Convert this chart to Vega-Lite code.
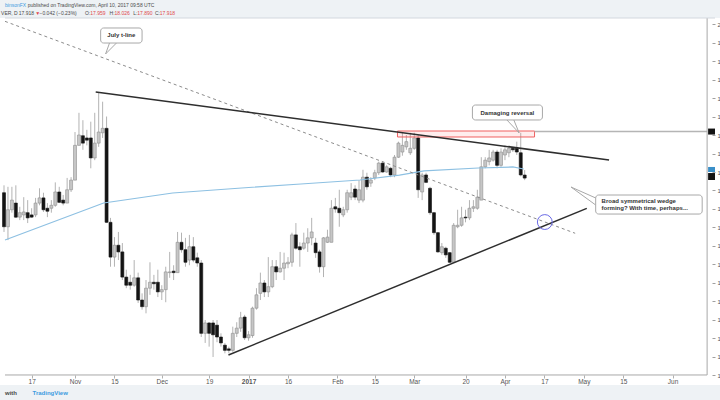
{
  "$schema": "https://vega.github.io/schema/vega-lite/v6.json",
  "width": 720,
  "height": 367,
  "autosize": "none",
  "padding": {"left": 0, "top": 18, "right": 0, "bottom": 15},
  "background": "#eef2f5",
  "config": {"view": {"fill": "white", "stroke": null}, "font": "Liberation Sans"},
  "datasets": {
    "candles": [
      {"i":-18,"o":17.72,"h":17.82,"l":17.19,"c":17.26},
      {"i":-17,"o":17.26,"h":17.80,"l":17.08,"c":17.49},
      {"i":-16,"o":17.49,"h":17.80,"l":17.45,"c":17.62},
      {"i":-15,"o":17.58,"h":17.82,"l":17.38,"c":17.39},
      {"i":-14,"o":17.39,"h":17.53,"l":17.35,"c":17.45},
      {"i":-13,"o":17.42,"h":17.66,"l":17.35,"c":17.46},
      {"i":-12,"o":17.45,"h":17.62,"l":17.31,"c":17.38},
      {"i":-11,"o":17.42,"h":17.51,"l":17.38,"c":17.39},
      {"i":-10,"o":17.42,"h":17.65,"l":17.39,"c":17.58},
      {"i":-9,"o":17.58,"h":17.78,"l":17.55,"c":17.65},
      {"i":-8,"o":17.65,"h":17.72,"l":17.46,"c":17.49},
      {"i":-7,"o":17.51,"h":17.58,"l":17.39,"c":17.47},
      {"i":-6,"o":17.51,"h":17.62,"l":17.45,"c":17.55},
      {"i":-5,"o":17.55,"h":17.86,"l":17.53,"c":17.73},
      {"i":-4,"o":17.73,"h":17.80,"l":17.58,"c":17.59},
      {"i":-3,"o":17.62,"h":17.69,"l":17.55,"c":17.58},
      {"i":-2,"o":17.58,"h":17.92,"l":17.58,"c":17.76},
      {"i":-1,"o":17.76,"h":17.93,"l":17.73,"c":17.89},
      {"i":0,"o":17.89,"h":18.54,"l":17.89,"c":18.36},
      {"i":1,"o":18.36,"h":18.80,"l":18.36,"c":18.50},
      {"i":2,"o":18.49,"h":18.70,"l":18.30,"c":18.39},
      {"i":3,"o":18.46,"h":18.57,"l":18.36,"c":18.43},
      {"i":4,"o":18.46,"h":18.68,"l":18.05,"c":18.19},
      {"i":5,"o":18.19,"h":18.80,"l":18.16,"c":18.39},
      {"i":6,"o":18.39,"h":19.07,"l":18.34,"c":18.54},
      {"i":7,"o":18.53,"h":18.95,"l":18.46,"c":18.59},
      {"i":8,"o":18.59,"h":18.75,"l":17.31,"c":17.32},
      {"i":9,"o":17.32,"h":17.38,"l":16.72,"c":16.85},
      {"i":10,"o":16.85,"h":17.12,"l":16.72,"c":17.01},
      {"i":11,"o":17.01,"h":17.19,"l":16.81,"c":16.92},
      {"i":12,"o":16.92,"h":17.04,"l":16.54,"c":16.58},
      {"i":13,"o":16.58,"h":16.68,"l":16.43,"c":16.47},
      {"i":14,"o":16.51,"h":16.61,"l":16.41,"c":16.47},
      {"i":15,"o":16.47,"h":16.81,"l":16.45,"c":16.57},
      {"i":16,"o":16.57,"h":16.64,"l":16.23,"c":16.27},
      {"i":17,"o":16.27,"h":16.36,"l":16.14,"c":16.18},
      {"i":18,"o":16.18,"h":16.54,"l":16.09,"c":16.43},
      {"i":19,"o":16.43,"h":16.78,"l":16.34,"c":16.51},
      {"i":20,"o":16.51,"h":16.61,"l":16.41,"c":16.49},
      {"i":21,"o":16.51,"h":16.68,"l":16.31,"c":16.38},
      {"i":22,"o":16.38,"h":16.47,"l":16.27,"c":16.41},
      {"i":23,"o":16.41,"h":16.72,"l":16.24,"c":16.65},
      {"i":24,"o":16.64,"h":16.92,"l":16.57,"c":16.65},
      {"i":25,"o":16.66,"h":16.74,"l":16.54,"c":16.64},
      {"i":26,"o":16.64,"h":17.19,"l":16.64,"c":17.05},
      {"i":27,"o":17.05,"h":17.18,"l":16.91,"c":16.95},
      {"i":28,"o":16.95,"h":17.11,"l":16.72,"c":16.78},
      {"i":29,"o":16.81,"h":17.15,"l":16.74,"c":16.99},
      {"i":30,"o":16.99,"h":17.12,"l":16.78,"c":16.81},
      {"i":31,"o":16.84,"h":16.91,"l":16.72,"c":16.77},
      {"i":32,"o":16.77,"h":16.81,"l":15.77,"c":15.82},
      {"i":33,"o":15.82,"h":16.00,"l":15.69,"c":15.96},
      {"i":34,"o":15.96,"h":15.97,"l":15.64,"c":15.82},
      {"i":35,"o":15.96,"h":16.00,"l":15.50,"c":15.80},
      {"i":36,"o":15.93,"h":16.00,"l":15.70,"c":15.77},
      {"i":37,"o":15.77,"h":15.82,"l":15.64,"c":15.69},
      {"i":38,"o":15.66,"h":15.69,"l":15.55,"c":15.59},
      {"i":39,"o":15.61,"h":15.64,"l":15.55,"c":15.59},
      {"i":40,"o":15.59,"h":15.91,"l":15.57,"c":15.82},
      {"i":41,"o":15.82,"h":15.97,"l":15.77,"c":15.89},
      {"i":42,"o":15.89,"h":16.11,"l":15.84,"c":16.03},
      {"i":43,"o":16.04,"h":16.07,"l":15.73,"c":15.76},
      {"i":44,"o":15.76,"h":15.85,"l":15.72,"c":15.80},
      {"i":45,"o":15.79,"h":16.18,"l":15.76,"c":16.16},
      {"i":46,"o":16.16,"h":16.43,"l":16.14,"c":16.34},
      {"i":47,"o":16.36,"h":16.64,"l":16.27,"c":16.50},
      {"i":48,"o":16.50,"h":16.54,"l":16.31,"c":16.38},
      {"i":49,"o":16.38,"h":16.85,"l":16.31,"c":16.45},
      {"i":50,"o":16.45,"h":16.81,"l":16.43,"c":16.72},
      {"i":51,"o":16.72,"h":16.81,"l":16.54,"c":16.65},
      {"i":52,"o":16.65,"h":16.92,"l":16.64,"c":16.70},
      {"i":53,"o":16.70,"h":16.91,"l":16.54,"c":16.77},
      {"i":54,"o":16.76,"h":16.85,"l":16.70,"c":16.78},
      {"i":55,"o":16.78,"h":17.18,"l":16.72,"c":17.15},
      {"i":56,"o":17.15,"h":17.31,"l":16.95,"c":16.97},
      {"i":57,"o":16.99,"h":17.05,"l":16.72,"c":16.95},
      {"i":58,"o":16.97,"h":17.18,"l":16.95,"c":17.04},
      {"i":59,"o":17.04,"h":17.24,"l":16.92,"c":17.11},
      {"i":60,"o":17.11,"h":17.38,"l":17.01,"c":17.19},
      {"i":61,"o":17.04,"h":17.11,"l":16.84,"c":16.91},
      {"i":62,"o":16.92,"h":16.95,"l":16.64,"c":16.72},
      {"i":63,"o":16.72,"h":17.12,"l":16.58,"c":17.11},
      {"i":64,"o":17.05,"h":17.22,"l":17.04,"c":17.12},
      {"i":65,"o":17.05,"h":17.62,"l":17.05,"c":17.51},
      {"i":66,"o":17.53,"h":17.65,"l":17.45,"c":17.50},
      {"i":67,"o":17.51,"h":17.76,"l":17.26,"c":17.45},
      {"i":68,"o":17.42,"h":17.53,"l":17.39,"c":17.49},
      {"i":69,"o":17.49,"h":17.76,"l":17.45,"c":17.72},
      {"i":70,"o":17.66,"h":17.85,"l":17.62,"c":17.72},
      {"i":71,"o":17.77,"h":17.82,"l":17.62,"c":17.66},
      {"i":72,"o":17.62,"h":17.89,"l":17.58,"c":17.76},
      {"i":73,"o":17.62,"h":18.03,"l":17.59,"c":17.93},
      {"i":74,"o":17.93,"h":17.99,"l":17.76,"c":17.80},
      {"i":75,"o":17.85,"h":17.93,"l":17.80,"c":17.89},
      {"i":76,"o":17.92,"h":18.03,"l":17.89,"c":17.99},
      {"i":77,"o":17.99,"h":18.14,"l":17.96,"c":18.12},
      {"i":78,"o":18.12,"h":18.14,"l":17.99,"c":18.00},
      {"i":79,"o":18.00,"h":18.09,"l":17.99,"c":18.07},
      {"i":80,"o":18.05,"h":18.07,"l":17.93,"c":17.96},
      {"i":81,"o":17.96,"h":18.23,"l":17.93,"c":18.20},
      {"i":82,"o":18.20,"h":18.41,"l":18.19,"c":18.39},
      {"i":83,"o":18.27,"h":18.54,"l":18.22,"c":18.36},
      {"i":84,"o":18.34,"h":18.50,"l":18.30,"c":18.41},
      {"i":85,"o":18.26,"h":18.53,"l":18.23,"c":18.32},
      {"i":86,"o":18.32,"h":18.53,"l":18.30,"c":18.46},
      {"i":87,"o":18.46,"h":18.50,"l":17.65,"c":17.76},
      {"i":88,"o":17.73,"h":17.99,"l":17.62,"c":17.96},
      {"i":89,"o":17.96,"h":17.99,"l":17.85,"c":17.86},
      {"i":90,"o":17.78,"h":17.80,"l":17.42,"c":17.45},
      {"i":91,"o":17.45,"h":17.46,"l":17.15,"c":17.18},
      {"i":92,"o":17.18,"h":17.19,"l":16.91,"c":16.92},
      {"i":93,"o":16.91,"h":17.04,"l":16.88,"c":16.99},
      {"i":94,"o":16.97,"h":16.99,"l":16.84,"c":16.88},
      {"i":95,"o":16.91,"h":16.92,"l":16.77,"c":16.78},
      {"i":96,"o":16.78,"h":17.31,"l":16.78,"c":17.28},
      {"i":97,"o":17.26,"h":17.49,"l":17.24,"c":17.28},
      {"i":98,"o":17.28,"h":17.53,"l":17.26,"c":17.38},
      {"i":99,"o":17.39,"h":17.49,"l":17.32,"c":17.38},
      {"i":100,"o":17.38,"h":17.62,"l":17.35,"c":17.51},
      {"i":101,"o":17.51,"h":17.62,"l":17.46,"c":17.53},
      {"i":102,"o":17.51,"h":17.76,"l":17.49,"c":17.66},
      {"i":103,"o":17.62,"h":18.20,"l":17.62,"c":18.07},
      {"i":104,"o":18.07,"h":18.20,"l":18.05,"c":18.16},
      {"i":105,"o":18.14,"h":18.30,"l":18.09,"c":18.19},
      {"i":106,"o":18.16,"h":18.30,"l":18.14,"c":18.27},
      {"i":107,"o":18.27,"h":18.30,"l":18.05,"c":18.09},
      {"i":108,"o":18.09,"h":18.32,"l":18.07,"c":18.27},
      {"i":109,"o":18.23,"h":18.36,"l":18.16,"c":18.30},
      {"i":110,"o":18.26,"h":18.36,"l":18.20,"c":18.32},
      {"i":111,"o":18.32,"h":18.34,"l":18.27,"c":18.30},
      {"i":112,"o":18.32,"h":18.41,"l":18.23,"c":18.27},
      {"i":113,"o":18.26,"h":18.53,"l":17.94,"c":17.96},
      {"i":114,"o":17.959,"h":18.026,"l":17.89,"c":17.918}
    ],
    "ma": [
      {"i":-17.75,"p":17.081},{"i":7.25,"p":17.581},{"i":24.75,"p":17.716},{"i":42.25,"p":17.784},
      {"i":57.25,"p":17.838},{"i":72.25,"p":17.892},{"i":82.25,"p":17.959},{"i":88.5,"p":18.014},
      {"i":102.25,"p":18.054},{"i":111,"p":18.068},{"i":113.75,"p":18.041}
    ],
    "trend": [
      {"i":5.25,"p":19.081,"i2":135.4,"p2":18.162},
      {"i":38.9,"p":15.527,"i2":129.75,"p2":17.509}
    ],
    "tline": [{"i":-17.75,"p":20.036,"i2":126.8,"p2":17.172}],
    "hline": [{"i":116.5,"p":18.547,"i2":160.25,"p2":18.547}],
    "border": [
      {"i":-17.75,"p":15.257,"i2":160.25,"p2":15.257},
      {"i":160.25,"p":15.257,"i2":160.25,"p2":20.0811}
    ],
    "topline": [{"i":-17.75,"p":20.0811,"i2":162.25,"p2":20.0811}],
    "redbox": [{"i":81.75,"i2":116.5,"p":18.554,"p2":18.473}],
    "boxes": [
      {"i":100.75,"i2":118.5,"p":18.905,"p2":18.703},
      {"i":6.5,"i2":17,"p":19.946,"p2":19.743},
      {"i":132,"i2":159,"p":17.689,"p2":17.432}
    ],
    "pointers": [
      {"i":112.6,"p":18.527,"i2":109.5,"p2":18.703},
      {"i":112.6,"p":18.527,"i2":111.25,"p2":18.703},
      {"i":7.75,"p":19.595,"i2":8.75,"p2":19.743},
      {"i":7.75,"p":19.595,"i2":10.5,"p2":19.743},
      {"i":125.75,"p":17.797,"i2":132,"p2":17.649},
      {"i":125.75,"p":17.797,"i2":132,"p2":17.554}
    ],
    "notesC": [
      {"t":"Damaging reversal","i":109.6,"p":18.80},
      {"t":"July t-line","i":11.75,"p":19.845}
    ],
    "notesL": [
      {"t":"Broad symmetrical wedge","i":133.5,"p":17.608},
      {"t":"forming? With time, perhaps...","i":133.5,"p":17.514}
    ],
    "circle": [{"i":119.1,"p":17.324}],
    "header": [
      {"t":"binsonFX","i":-17.75,"p":20.257,"k":"blue"},
      {"t":"published on TradingView.com, April 10, 2017 09:58 UTC","i":-12.0,"p":20.257,"k":"dark"},
      {"t":"VER, D","i":-18.75,"p":20.155,"k":"dark"},
      {"t":"17.918","i":-14.25,"p":20.155,"k":"dark"},
      {"t":"▼","i":-10.1,"p":20.155,"k":"red"},
      {"t":"−0.042 (−0.23%)","i":-9.0,"p":20.155,"k":"dark"},
      {"t":"O:","i":2.5,"p":20.155,"k":"dark"},
      {"t":"17.959","i":3.85,"p":20.155,"k":"red"},
      {"t":"H:","i":8.75,"p":20.155,"k":"dark"},
      {"t":"18.026","i":10.0,"p":20.155,"k":"red"},
      {"t":"L:","i":14.75,"p":20.155,"k":"dark"},
      {"t":"17.890","i":15.8,"p":20.155,"k":"red"},
      {"t":"C:","i":20.25,"p":20.155,"k":"dark"},
      {"t":"17.918","i":21.5,"p":20.155,"k":"red"}
    ],
    "footer": [
      {"t":"with","i":-17.75,"p":15.014,"k":"dark"},
      {"t":"TradingView","i":-10.75,"p":15.014,"k":"blue"}
    ],
    "pricebox": [
      {"p":18.587,"p2":18.506,"k":"black"},
      {"p":18.068,"p2":18.0,"k":"blue"},
      {"p":17.986,"p2":17.892,"k":"black"}
    ]
  },
  "layer": [
    {
      "data": {"name": "candles"},
      "mark": {"type": "rule", "color": "#b3b3b3", "strokeWidth": 1},
      "encoding": {
        "x": {"field": "i", "type": "quantitative",
              "scale": {"domain": [-17.75, 162.25], "nice": false, "zero": false},
              "axis": {"orient": "bottom", "offset": -10, "domain": false, "grid": false, "title": null,
                       "values": [-11, 0, 10, 22, 34, 44, 54, 66.5, 76, 86, 99, 109, 119, 129, 139, 151.5],
                       "tickCount": 40,
                       "labelExpr": "({'-11':'17','0':'Nov','10':'15','22':'Dec','34':'19','44':'2017','54':'16','66.5':'Feb','76':'15','86':'Mar','99':'20','109':'Apr','119':'17','129':'May','139':'15','151.5':'Jun'})['' + datum.value]",
                       "labelFontWeight": {"condition": {"test": "datum.value == 44", "value": "bold"}, "value": "normal"},
                       "tickSize": 3, "tickColor": "#b0b0b0", "labelFontSize": 6.5, "labelColor": "#555555",
                       "labelPadding": 0, "labelFlush": false, "labelOverlap": false}},
        "y": {"field": "l", "type": "quantitative",
              "scale": {"domain": [15.1216, 20.0811], "nice": false, "zero": false},
              "axis": {"orient": "right", "offset": -8, "domain": false, "grid": false, "title": null,
                       "values": [15.25, 15.5, 15.75, 16, 16.25, 16.5, 16.75, 17, 17.25, 17.5, 17.75, 18, 18.25, 18.5, 18.75, 19, 19.25, 19.5, 19.75, 20],
                       "tickCount": 40,
                       "format": ".3f", "tickSize": 3, "tickColor": "#a0a0a0", "labelFontSize": 6,
                       "labelColor": "#555555", "labelPadding": 2, "labelOverlap": false, "labelBound": false}},
        "y2": {"field": "h"}
      }
    },
    {
      "data": {"name": "candles"},
      "mark": {"type": "bar", "size": 3, "strokeWidth": 0.6},
      "encoding": {
        "x": {"field": "i", "type": "quantitative"},
        "y": {"field": "o", "type": "quantitative"},
        "y2": {"field": "c"},
        "fill": {"condition": {"test": "datum.c >= datum.o", "value": "#c6c6c6"}, "value": "#141414"},
        "stroke": {"condition": {"test": "datum.c >= datum.o", "value": "#8f8f8f"}, "value": "#141414"}
      }
    },
    {
      "data": {"name": "ma"},
      "mark": {"type": "line", "color": "#8dc0e2", "strokeWidth": 1.2},
      "encoding": {
        "x": {"field": "i", "type": "quantitative"},
        "y": {"field": "p", "type": "quantitative"}
      }
    },
    {
      "data": {"name": "redbox"},
      "mark": {"type": "rect", "fill": "#ff6b6b", "fillOpacity": 0.12, "stroke": "#f06060", "strokeWidth": 1},
      "encoding": {
        "x": {"field": "i", "type": "quantitative"}, "x2": {"field": "i2"},
        "y": {"field": "p", "type": "quantitative"}, "y2": {"field": "p2"}
      }
    },
    {
      "data": {"name": "hline"},
      "mark": {"type": "rule", "color": "#b5b5b5", "strokeWidth": 1.5},
      "encoding": {
        "x": {"field": "i", "type": "quantitative"}, "x2": {"field": "i2"},
        "y": {"field": "p", "type": "quantitative"}, "y2": {"field": "p2"}
      }
    },
    {
      "data": {"name": "border"},
      "mark": {"type": "rule", "color": "#a8a8a8", "strokeWidth": 1},
      "encoding": {
        "x": {"field": "i", "type": "quantitative"}, "x2": {"field": "i2"},
        "y": {"field": "p", "type": "quantitative"}, "y2": {"field": "p2"}
      }
    },
    {
      "data": {"name": "topline"},
      "mark": {"type": "rule", "color": "#d3d8de", "strokeWidth": 1},
      "encoding": {
        "x": {"field": "i", "type": "quantitative"}, "x2": {"field": "i2"},
        "y": {"field": "p", "type": "quantitative"}, "y2": {"field": "p2"}
      }
    },
    {
      "data": {"name": "tline"},
      "mark": {"type": "rule", "color": "#8c8c8c", "strokeWidth": 1, "strokeDash": [3, 3]},
      "encoding": {
        "x": {"field": "i", "type": "quantitative"}, "x2": {"field": "i2"},
        "y": {"field": "p", "type": "quantitative"}, "y2": {"field": "p2"}
      }
    },
    {
      "data": {"name": "trend"},
      "mark": {"type": "rule", "color": "#2e2e2e", "strokeWidth": 1.5},
      "encoding": {
        "x": {"field": "i", "type": "quantitative"}, "x2": {"field": "i2"},
        "y": {"field": "p", "type": "quantitative"}, "y2": {"field": "p2"}
      }
    },
    {
      "data": {"name": "circle"},
      "mark": {"type": "point", "shape": "circle", "size": 220, "filled": false, "stroke": "#6a6ae6", "strokeWidth": 1, "opacity": 1},
      "encoding": {
        "x": {"field": "i", "type": "quantitative"},
        "y": {"field": "p", "type": "quantitative"}
      }
    },
    {
      "data": {"name": "pointers"},
      "mark": {"type": "rule", "color": "#a8a8a8", "strokeWidth": 1},
      "encoding": {
        "x": {"field": "i", "type": "quantitative"}, "x2": {"field": "i2"},
        "y": {"field": "p", "type": "quantitative"}, "y2": {"field": "p2"}
      }
    },
    {
      "data": {"name": "boxes"},
      "mark": {"type": "rect", "fill": "white", "stroke": "#a8a8a8", "strokeWidth": 1, "cornerRadius": 3},
      "encoding": {
        "x": {"field": "i", "type": "quantitative"}, "x2": {"field": "i2"},
        "y": {"field": "p", "type": "quantitative"}, "y2": {"field": "p2"}
      }
    },
    {
      "data": {"name": "notesC"},
      "mark": {"type": "text", "align": "center", "baseline": "middle", "fontSize": 6, "fontWeight": "bold", "color": "#333333"},
      "encoding": {
        "x": {"field": "i", "type": "quantitative"},
        "y": {"field": "p", "type": "quantitative"},
        "text": {"field": "t"}
      }
    },
    {
      "data": {"name": "notesL"},
      "mark": {"type": "text", "align": "left", "baseline": "middle", "fontSize": 6, "fontWeight": "bold", "color": "#333333"},
      "encoding": {
        "x": {"field": "i", "type": "quantitative"},
        "y": {"field": "p", "type": "quantitative"},
        "text": {"field": "t"}
      }
    },
    {
      "data": {"name": "header"},
      "mark": {"type": "text", "align": "left", "baseline": "middle", "fontSize": 5},
      "encoding": {
        "x": {"field": "i", "type": "quantitative"},
        "y": {"field": "p", "type": "quantitative"},
        "text": {"field": "t"},
        "color": {"field": "k", "type": "nominal", "legend": null,
                  "scale": {"domain": ["dark", "red", "blue"], "range": ["#4a4a4a", "#e0484c", "#3d9be0"]}}
      }
    },
    {
      "data": {"name": "footer"},
      "mark": {"type": "text", "align": "left", "baseline": "middle", "fontSize": 6, "fontWeight": "bold"},
      "encoding": {
        "x": {"field": "i", "type": "quantitative"},
        "y": {"field": "p", "type": "quantitative"},
        "text": {"field": "t"},
        "color": {"field": "k", "type": "nominal", "legend": null,
                  "scale": {"domain": ["dark", "red", "blue"], "range": ["#4a4a4a", "#e0484c", "#3d9be0"]}}
      }
    },
    {
      "data": {"name": "pricebox"},
      "mark": {"type": "rect"},
      "encoding": {
        "x": {"datum": 160.5, "type": "quantitative"}, "x2": {"datum": 162.25},
        "y": {"field": "p", "type": "quantitative"}, "y2": {"field": "p2"},
        "fill": {"field": "k", "type": "nominal", "legend": null,
                 "scale": {"domain": ["black", "blue"], "range": ["#131313", "#3a8fc8"]}}
      }
    }
  ]
}
